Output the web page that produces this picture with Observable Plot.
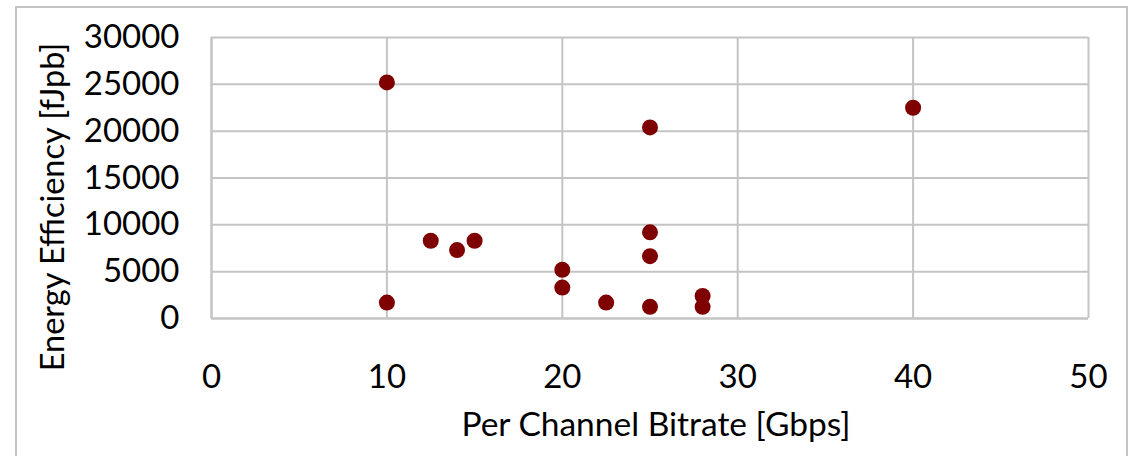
<!DOCTYPE html>
<html>
<head>
<meta charset="utf-8">
<script src="https://cdn.jsdelivr.net/npm/d3@7"></script>
<script src="https://cdn.jsdelivr.net/npm/@observablehq/plot@0.6"></script>
<style>
  html, body { margin: 0; padding: 0; background: #fff; overflow: hidden; }
  #wrap { position: relative; width: 1133px; height: 456px; }
  #border { position: absolute; left: 15px; top: 6px; width: 1113px; height: 470px; border: 2px solid #c4c4c4; box-sizing: border-box; pointer-events: none; }
  #chart { position: absolute; left: 0; top: 0; }
</style>
</head>
<body>
<div id="wrap">
  <div id="border"></div>
  <div id="chart"></div>
</div>
<script>
const bitrate = [10, 10, 12.5, 14, 15, 20, 20, 22.5, 25, 25, 25, 25, 28, 28, 40];
const efficiency = [25200, 1700, 8300, 7300, 8300, 5200, 3300, 1700, 20400, 9200, 6650, 1250, 2400, 1250, 22500];
const xTicks = [0, 10, 20, 30, 40, 50];
const yTicks = [0, 5000, 10000, 15000, 20000, 25000, 30000];
const xTitle = "Per Channel Bitrate [Gbps]";
const yTitle = "Energy Efficiency [fJpb]";

const data = bitrate.map((b, i) => ({x: b, y: efficiency[i]}));
const font = "Lato, 'Open Sans', sans-serif";

const chart = Plot.plot({
  width: 1133,
  height: 456,
  marginLeft: 211,
  marginRight: 45,
  marginTop: 37,
  marginBottom: 138,
  style: {fontFamily: font, background: "transparent", color: "#000"},
  x: {domain: [0, 50], ticks: xTicks},
  y: {domain: [0, 30000], ticks: yTicks},
  marks: [
    Plot.gridX(xTicks, {stroke: "#c4c4c4", strokeOpacity: 1, strokeWidth: 2}),
    Plot.gridY(yTicks, {stroke: "#c4c4c4", strokeOpacity: 1, strokeWidth: 2}),
    Plot.ruleX([0], {stroke: "#c4c4c4", strokeWidth: 2}),
    Plot.ruleY([0], {stroke: "#c4c4c4", strokeWidth: 2}),
    Plot.axisX({ticks: xTicks, tickSize: 0, tickPadding: 46, fontSize: 33, label: null, tickFormat: d => String(d)}),
    Plot.axisY({ticks: yTicks, tickSize: 0, tickPadding: 32, fontSize: 33, label: null, tickFormat: d => String(d)}),
    Plot.dot(data, {x: "x", y: "y", r: 8, fill: "#7f0000", stroke: "none"}),
    Plot.text([yTitle], {frameAnchor: "left", rotate: -90, dx: -158, dy: 29, fontSize: 32.5, fill: "#000", textAnchor: "middle", lineAnchor: "middle"}),
    Plot.text([xTitle], {frameAnchor: "bottom", dx: 6, dy: 107, fontSize: 33.5, fill: "#000", textAnchor: "middle", lineAnchor: "middle"})
  ]
});
document.getElementById("chart").appendChild(chart);
</script>
</body>
</html>
